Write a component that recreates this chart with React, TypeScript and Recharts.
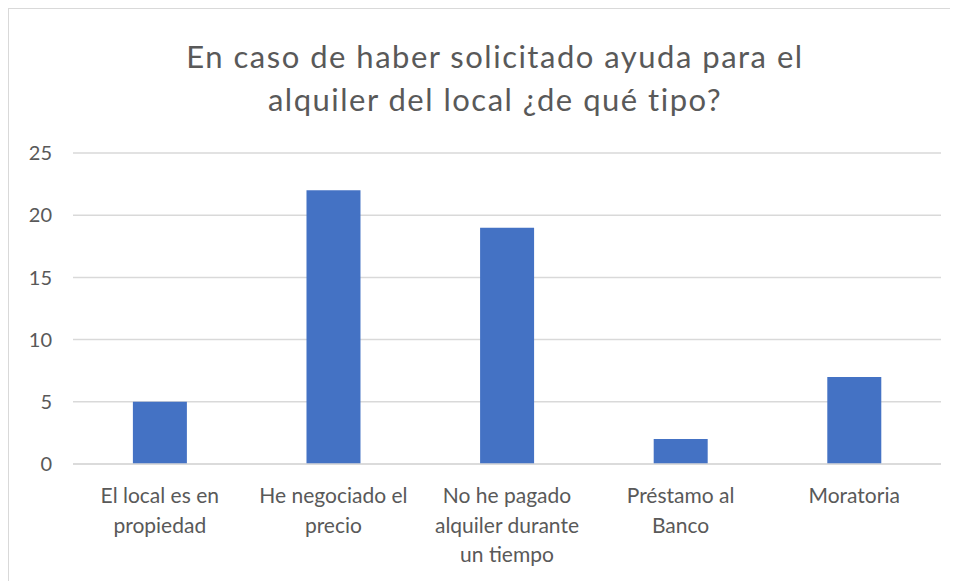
import { Bar, BarChart, CartesianGrid, XAxis, YAxis } from "recharts";

const categories = [
	"El local es en\npropiedad",
	"He negociado el\nprecio",
	"No he pagado\nalquiler durante\nun tiempo",
	"Préstamo al\nBanco",
	"Moratoria",
];
const values = [5, 22, 19, 2, 7];
const yTicks = [0, 5, 10, 15, 20, 25];

const data = categories.map((name, i) => ({ name, value: values[i] }));

const FONT = "Lato, 'Open Sans', sans-serif";
const TEXT = "#595959";

function CategoryTick({ x, y, payload }: any) {
	const lines = String(payload.value).split("\n");
	return (
		<text x={x} y={y} textAnchor="middle" fill={TEXT} fontSize={21} fontFamily={FONT}>
			{lines.map((line, i) => (
				<tspan key={i} x={x} dy={i === 0 ? 31 : 29.5}>
					{line}
				</tspan>
			))}
		</text>
	);
}

export default function App() {
	return (
		<div
			style={{
				position: "relative",
				width: 950,
				height: 573,
				borderTop: "1px solid #d9d9d9",
				borderLeft: "1px solid #d9d9d9",
				boxSizing: "border-box",
				background: "#fff",
			}}
		>
			<div
				style={{
					position: "absolute",
					left: 0,
					top: 26,
					width: 972,
					textAlign: "center",
					fontFamily: FONT,
					fontSize: 31,
					letterSpacing: 1.5,
					lineHeight: "43px",
					color: TEXT,
				}}
			>
				En caso de haber solicitado ayuda para el
				<br />
				alquiler del local ¿de qué tipo?
			</div>
			<BarChart
				width={949}
				height={572}
				data={data}
				margin={{ top: 144, right: 17, bottom: 0, left: 0 }}
				barCategoryGap="34.5%"
			>
				<CartesianGrid vertical={false} stroke="#d9d9d9" strokeWidth={1.5} />
				<XAxis
					dataKey="name"
					height={117}
					interval={0}
					tickLine={false}
					axisLine={{ stroke: "#d9d9d9", strokeWidth: 1.5 }}
					tick={<CategoryTick />}
				/>
				<YAxis
					width={64}
					domain={[0, 25]}
					ticks={yTicks}
					axisLine={false}
					tickLine={false}
					tickMargin={15}
					tick={{ fill: TEXT, fontSize: 20, fontFamily: FONT }}
				/>
				<Bar dataKey="value" fill="#4472C4" isAnimationActive={false} />
			</BarChart>
		</div>
	);
}
